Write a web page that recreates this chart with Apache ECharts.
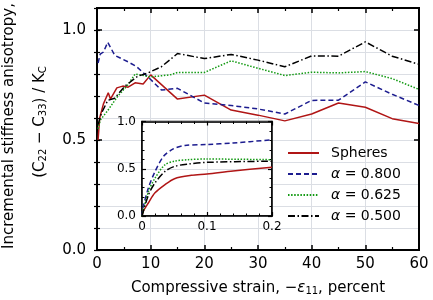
<!DOCTYPE html>
<html>
<head>
<meta charset="utf-8">
<script src="https://cdn.jsdelivr.net/npm/echarts@6/dist/echarts.min.js"></script>
<style>
    html, body {margin: 0; padding: 0; background: #fff;}
    #chart {width: 433px; height: 300px;}
</style>
</head>
<body>
<div id="chart"></div>
<script>
    // main panel: [strain percent, anisotropy]
    var spheresMain = [[0.2, 0.5], [0.5, 0.6], [1.2, 0.664], [2.1, 0.715], [2.5, 0.686], [3.7, 0.737], [4.8, 0.745], [5.8, 0.74], [7.1, 0.76], [8.6, 0.755], [10, 0.796], [15, 0.686], [20, 0.704], [25, 0.636], [30, 0.613], [35, 0.587], [40, 0.618], [45, 0.668], [50, 0.649], [55, 0.597], [60, 0.575]];
    var a800Main = [[0.2, 0.85], [0.6, 0.89], [1.2, 0.9], [2, 0.944], [3.3, 0.885], [5.8, 0.855], [7.4, 0.833], [10, 0.775], [12, 0.727], [15, 0.735], [20, 0.668], [25, 0.657], [30, 0.641], [35, 0.618], [40, 0.68], [45, 0.681], [50, 0.764], [55, 0.708], [60, 0.657]];
    var a625Main = [[0.2, 0.55], [0.6, 0.59], [2, 0.634], [3.9, 0.7], [5.8, 0.752], [7.1, 0.8], [10, 0.787], [13.6, 0.796], [15, 0.807], [20, 0.807], [25, 0.86], [30, 0.826], [35, 0.793], [40, 0.808], [45, 0.805], [50, 0.811], [55, 0.779], [60, 0.73]];
    var a500Main = [[0.2, 0.57], [0.8, 0.62], [2, 0.68], [3.3, 0.69], [5.2, 0.745], [7.6, 0.79], [9.5, 0.805], [12, 0.833], [15, 0.893], [20, 0.87], [25, 0.889], [30, 0.863], [35, 0.833], [40, 0.882], [45, 0.881], [50, 0.946], [55, 0.881], [60, 0.844]];

    // inset: first 0.2 percent
    var spheresInset = [[0, 0], [0.002, 0.05], [0.01, 0.14], [0.02, 0.245], [0.035, 0.33], [0.05, 0.395], [0.076, 0.43], [0.1, 0.444], [0.14, 0.476], [0.2, 0.516]];
    var a800Inset = [[0, 0], [0.002, 0.1], [0.01, 0.3], [0.02, 0.47], [0.033, 0.63], [0.048, 0.71], [0.066, 0.746], [0.1, 0.757], [0.14, 0.772], [0.2, 0.807]];
    var a625Inset = [[0, 0], [0.01, 0.26], [0.02, 0.4], [0.035, 0.54], [0.05, 0.58], [0.071, 0.596], [0.1, 0.603], [0.2, 0.596]];
    var a500Inset = [[0, 0], [0.01, 0.225], [0.02, 0.35], [0.035, 0.47], [0.05, 0.525], [0.071, 0.55], [0.1, 0.568], [0.2, 0.58]];

    var seriesNames = ['Spheres', 'α = 0.800', 'α = 0.625', 'α = 0.500'];

    var FONT = 'DejaVu Sans';
    var colors = ['#b01515', '#1c1c8f', '#129a12', '#000000'];
    var lineTypes = ['solid', [5, 3], [1.5, 1.6], [7, 2.5, 1.5, 2.5]];

    var chart = echarts.init(document.getElementById('chart'));

    var dotted = {show: true, lineStyle: {color: '#c4c4c4', type: [1, 2], width: 1}};
    var blank = function () { return ''; };

    var xAxes = [
        {gridIndex: 0, type: 'value', position: 'bottom', min: 0, max: 60, interval: 10,
            axisLine: {show: true, onZero: false, lineStyle: {color: '#000', width: 2}},
            axisTick: {show: true, inside: true, length: 5, lineStyle: {color: '#000', width: 1.5}},
            minorTick: {show: true, splitNumber: 2, length: 3, lineStyle: {color: '#000', width: 1.2}},
            splitLine: dotted,
            axisLabel: {show: true, margin: 7, fontFamily: FONT, fontSize: 15, color: '#000'}},
        {gridIndex: 0, type: 'value', position: 'top', min: 0, max: 60, interval: 10,
            axisLine: {show: true, onZero: false, lineStyle: {color: '#000', width: 2}},
            axisTick: {show: true, inside: true, length: 5, lineStyle: {color: '#000', width: 1.5}},
            minorTick: {show: true, splitNumber: 2, length: 3, lineStyle: {color: '#000', width: 1.2}},
            axisLabel: {show: true, formatter: blank}},
        {gridIndex: 1, zlevel: 1, type: 'value', position: 'bottom', min: 0, max: 0.2, interval: 0.1,
            axisLine: {show: true, onZero: false, lineStyle: {color: '#000', width: 1.5}},
            axisTick: {show: true, inside: true, length: 4, lineStyle: {color: '#000', width: 1.2}},
            minorTick: {show: true, splitNumber: 5, length: 2.5, lineStyle: {color: '#000', width: 1}},
            splitLine: dotted,
            axisLabel: {show: true, margin: 5, fontFamily: FONT, fontSize: 12, color: '#000',
                formatter: function (v) { return v === 0 ? '0' : v.toFixed(1); }}},
        {gridIndex: 1, zlevel: 1, type: 'value', position: 'top', min: 0, max: 0.2, interval: 0.1,
            axisLine: {show: true, onZero: false, lineStyle: {color: '#000', width: 1.5}},
            axisTick: {show: true, inside: true, length: 4, lineStyle: {color: '#000', width: 1.2}},
            minorTick: {show: true, splitNumber: 5, length: 2.5, lineStyle: {color: '#000', width: 1}},
            axisLabel: {show: true, formatter: blank}}
    ];

    var yAxes = [
        {gridIndex: 0, type: 'value', position: 'left', min: 0, max: 1.1, interval: 0.5,
            axisLine: {show: true, onZero: false, lineStyle: {color: '#000', width: 2}},
            axisTick: {show: true, inside: true, length: 5, lineStyle: {color: '#000', width: 1.5}},
            splitLine: dotted,
            axisLabel: {show: true, margin: 11, fontFamily: FONT, fontSize: 15, color: '#000',
                formatter: function (v) { return Math.abs(v * 2 - Math.round(v * 2)) < 1e-6 ? v.toFixed(1) : ''; }}},
        {gridIndex: 0, type: 'value', position: 'right', min: 0, max: 1.1, interval: 0.5,
            axisLine: {show: true, onZero: false, lineStyle: {color: '#000', width: 2}},
            axisTick: {show: true, inside: true, length: 5, lineStyle: {color: '#000', width: 1.5}},
            axisLabel: {show: true, formatter: blank}},
        // minor ticks every 0.1, both sides
        {gridIndex: 0, type: 'value', position: 'left', min: 0, max: 1.1, interval: 0.1,
            axisLine: {show: false},
            axisTick: {show: true, inside: true, length: 3, lineStyle: {color: '#000', width: 1.2}},
            axisLabel: {show: true, formatter: blank}},
        {gridIndex: 0, type: 'value', position: 'right', min: 0, max: 1.1, interval: 0.1,
            axisLine: {show: false},
            axisTick: {show: true, inside: true, length: 3, lineStyle: {color: '#000', width: 1.2}},
            axisLabel: {show: true, formatter: blank}},
        {gridIndex: 1, zlevel: 1, type: 'value', position: 'left', min: 0, max: 1, interval: 0.5,
            axisLine: {show: true, onZero: false, lineStyle: {color: '#000', width: 1.5}},
            axisTick: {show: true, inside: true, length: 4, lineStyle: {color: '#000', width: 1.2}},
            minorTick: {show: true, splitNumber: 5, length: 2.5, lineStyle: {color: '#000', width: 1}},
            splitLine: dotted,
            axisLabel: {show: true, margin: 6, fontFamily: FONT, fontSize: 12, color: '#000',
                formatter: function (v) { return v.toFixed(1); }}},
        {gridIndex: 1, zlevel: 1, type: 'value', position: 'right', min: 0, max: 1, interval: 0.5,
            axisLine: {show: true, onZero: false, lineStyle: {color: '#000', width: 1.5}},
            axisTick: {show: true, inside: true, length: 4, lineStyle: {color: '#000', width: 1.2}},
            minorTick: {show: true, splitNumber: 5, length: 2.5, lineStyle: {color: '#000', width: 1}},
            axisLabel: {show: true, formatter: blank}}
    ];

    var mainData = [spheresMain, a800Main, a625Main, a500Main];
    var insetData = [spheresInset, a800Inset, a625Inset, a500Inset];
    var series = [];
    for (var i = 0; i < seriesNames.length; i++) {
        series.push({
            name: seriesNames[i], type: 'line', xAxisIndex: 0, yAxisIndex: 0,
            data: mainData[i], symbol: 'none',
            lineStyle: {color: colors[i], width: 1.5, type: lineTypes[i]},
            itemStyle: {color: colors[i]}
        });
    }
    for (var j = 0; j < seriesNames.length; j++) {
        series.push({
            name: seriesNames[j], type: 'line', xAxisIndex: 2, yAxisIndex: 4, zlevel: 1,
            data: insetData[j], symbol: 'none', smooth: 0.3,
            lineStyle: {color: colors[j], width: 1.5, type: lineTypes[j]},
            itemStyle: {color: colors[j]}
        });
    }

    var option = {
        backgroundColor: '#fff',
        animation: false,
        grid: [
            {left: 97, right: 14, top: 2, bottom: 50, show: true,
                backgroundColor: 'transparent', borderColor: '#000', borderWidth: 2},
            {left: 142, width: 130, top: 121.5, height: 94.5, show: true, zlevel: 1,
                backgroundColor: '#fff', borderColor: '#000', borderWidth: 1.5}
        ],
        xAxis: xAxes,
        yAxis: yAxes,
        legend: {
            data: seriesNames,
            orient: 'vertical',
            left: 287, top: 146, padding: 0,
            itemWidth: 31, itemHeight: 14, itemGap: 7,
            selectedMode: false,
            itemStyle: {opacity: 0},
            textStyle: {fontFamily: FONT, fontSize: 14, color: '#000', padding: [0, 0, 0, 7],
                rich: {
                    i: {fontFamily: FONT, fontSize: 14, fontStyle: 'italic', color: '#000'},
                    n: {fontFamily: FONT, fontSize: 14, color: '#000'}
                }},
            formatter: function (name) {
                if (name.charAt(0) === 'α') {
                    return '{i|α}{n|' + name.slice(1) + '}';
                }
                return name;
            }
        },
        graphic: [
            {
                type: 'text', x: 9, y: 126, rotation: Math.PI / 2,
                style: {text: 'Incremental stiffness anisotropy,', fontFamily: FONT, fontSize: 15,
                    fill: '#000', align: 'center', verticalAlign: 'middle'}
            },
            {
                type: 'text', x: 40, y: 122, rotation: Math.PI / 2,
                style: {
                    text: '{n|(C}{s|22}{n| − C}{s|33}{n|) / K}{s|C}',
                    align: 'center', verticalAlign: 'middle',
                    rich: {
                        n: {fontFamily: FONT, fontSize: 15, fill: '#000', lineHeight: 18},
                        s: {fontFamily: FONT, fontSize: 10, fill: '#000', lineHeight: 18, padding: [7, 0, 0, 0]}
                    }
                }
            },
            {
                type: 'text', x: 258, y: 288,
                style: {
                    text: '{n|Compressive strain, −}{i|ε}{s|11}{n|, percent}',
                    align: 'center', verticalAlign: 'middle',
                    rich: {
                        n: {fontFamily: FONT, fontSize: 15, fill: '#000', lineHeight: 18},
                        i: {fontFamily: FONT, fontSize: 15, fontStyle: 'italic', fill: '#000', lineHeight: 18},
                        s: {fontFamily: FONT, fontSize: 10, fill: '#000', lineHeight: 18, padding: [7, 0, 0, 0]}
                    }
                }
            }
        ],
        series: series
    };
    chart.setOption(option);
</script>
</body>
</html>
